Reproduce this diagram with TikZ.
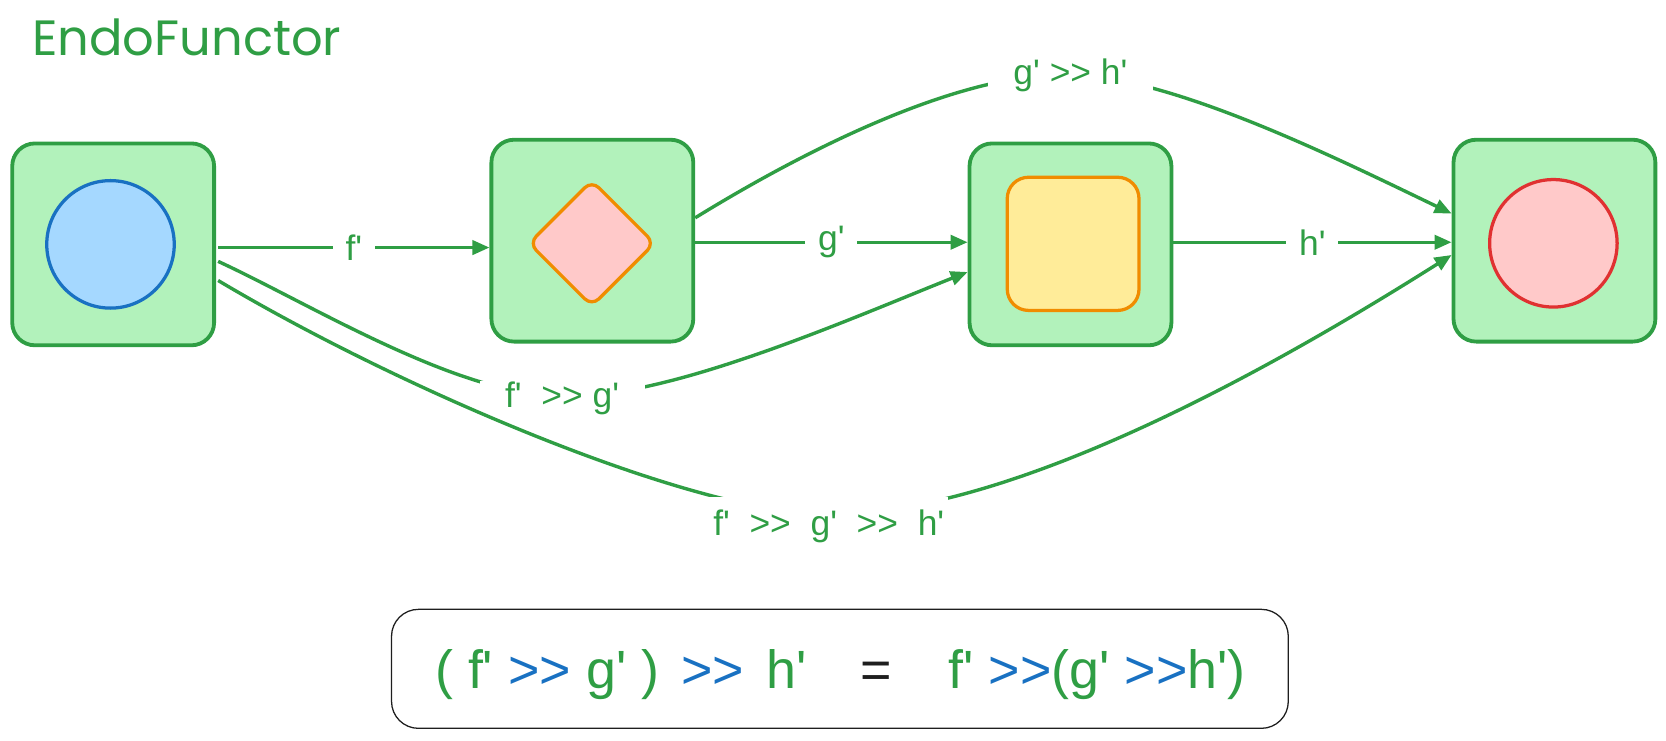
\documentclass[tikz,border=0pt]{standalone}
\usepackage{fontspec}
\setmainfont{Liberation Sans}[Ligatures=TeXOff]
\newfontfamily\titlefont{Poppins}
\usepackage{tikz}
\usetikzlibrary{arrows.meta,calc}
\definecolor{grn}{HTML}{2F9E44}
\definecolor{grnfill}{HTML}{B2F2BB}
\definecolor{blu}{HTML}{1971C2}
\definecolor{blufill}{HTML}{A5D8FF}
\definecolor{pnk}{HTML}{FFC9C9}
\definecolor{org}{HTML}{F08C00}
\definecolor{ylw}{HTML}{FFEC99}
\definecolor{rd}{HTML}{E03131}
\definecolor{ink}{HTML}{1E1E1E}

\begin{document}
\begin{tikzpicture}[x=0.75pt,y=0.75pt,yscale=-1,xscale=1,
    objbox/.style={draw=grn, fill=grnfill, line width=2.7pt, rounded corners=16pt, minimum width=142.5pt, minimum height=142.5pt},
    inshape/.style={line width=2.3pt},
    conn/.style={draw=grn, line width=2.4pt, -{Triangle[length=12pt,width=10pt]}},
    lbl/.style={fill=white, text=grn, font=\fontsize{25}{30}\selectfont, inner xsep=9pt, inner ysep=3pt},
    curvelbl/.style={lbl, inner xsep=18pt, inner ysep=1pt}]
        \useasboundingbox (0,0) rectangle (1568,696.5);

        \node [anchor=base west, inner sep=0pt, text=grn, font=\titlefont\fontsize{35}{40}\selectfont] (title) at (30,52) {EndoFunctor};

        \node [objbox] (A) at (106.5,230) {};
        \node [objbox] (B) at (557.5,226.5) {};
        \node [objbox] (C) at (1007.5,230) {};
        \node [objbox] (D) at (1463,226.5) {};

        \node [inshape, circle, draw=blu, fill=blufill, minimum size=90pt] (Ain) at (104,230) {};
        \node [inshape, rectangle, rotate=45, rounded corners=7pt, draw=org, fill=pnk, minimum size=62.5pt] (Bin) at (557,229) {};
        \node [inshape, rectangle, rounded corners=15pt, draw=org, fill=ylw, minimum width=93pt, minimum height=94pt] (Cin) at (1010,229.5) {};
        \node [inshape, circle, draw=rd, fill=pnk, minimum size=90pt] (Din) at (1462,229) {};

        \draw [conn] ($(A.east)+(2,3)$) -- node [lbl] (f) {f'} ($(B.west)+(0,6.5)$);
        \draw [conn] ($(B.east)+(0,1.5)$) -- node [lbl] (g) {g'} ($(C.west)+(0,-2)$);
        \draw [conn] ($(C.east)+(0,-2)$) -- node [lbl] (h) {h'} ($(D.west)+(0,1.5)$);

        \draw [conn] ($(B.east)+(0,-21.5)$) .. controls (760,140) and (900,70) .. (1003,70) .. controls (1100,70) and (1260,150) .. ($(D.west)+(0,-25.5)$);
        \node [curvelbl] (gh) at (1007.5,71) {g' >> h'};

        \draw [conn] ($(A.east)+(2,16)$) .. controls (290,285) and (430,372) .. (525,372) .. controls (620,380) and (800,300) .. ($(C.west)+(0,26)$);
        \node [curvelbl] (fg) at (529,375) {f'\ \ >> g'};

        \draw [conn] ($(A.east)+(2,34)$) .. controls (380,368) and (650,482) .. (775,484) .. controls (950,487) and (1200,345) .. ($(D.west)+(0,13.5)$);
        \node [curvelbl, inner xsep=3pt, inner ysep=9pt] (fgh) at (780,495) {f'\ \ >>\ \ g'\ \ >>\ \ h'};

        \node [draw=ink, line width=0.9pt, rounded corners=19pt, minimum width=633pt, minimum height=84pt] (lawbox) at (790.5,629.5) {};
        \node [inner sep=0pt, font=\fontsize{38}{45}\selectfont] (law) at (791,635) {\textcolor{grn}{( f'} \textcolor{blu}{>>} \textcolor{grn}{g' )}\hspace{0.13em} \textcolor{blu}{>>}\hspace{0.14em} \textcolor{grn}{h'}\hspace{1em}\textcolor{ink}{=}\hspace{1.05em}\textcolor{grn}{f'} \textcolor{blu}{>>}\textcolor{grn}{(g'} \textcolor{blu}{>>}\textcolor{grn}{h')}};

\end{tikzpicture}
\end{document}
